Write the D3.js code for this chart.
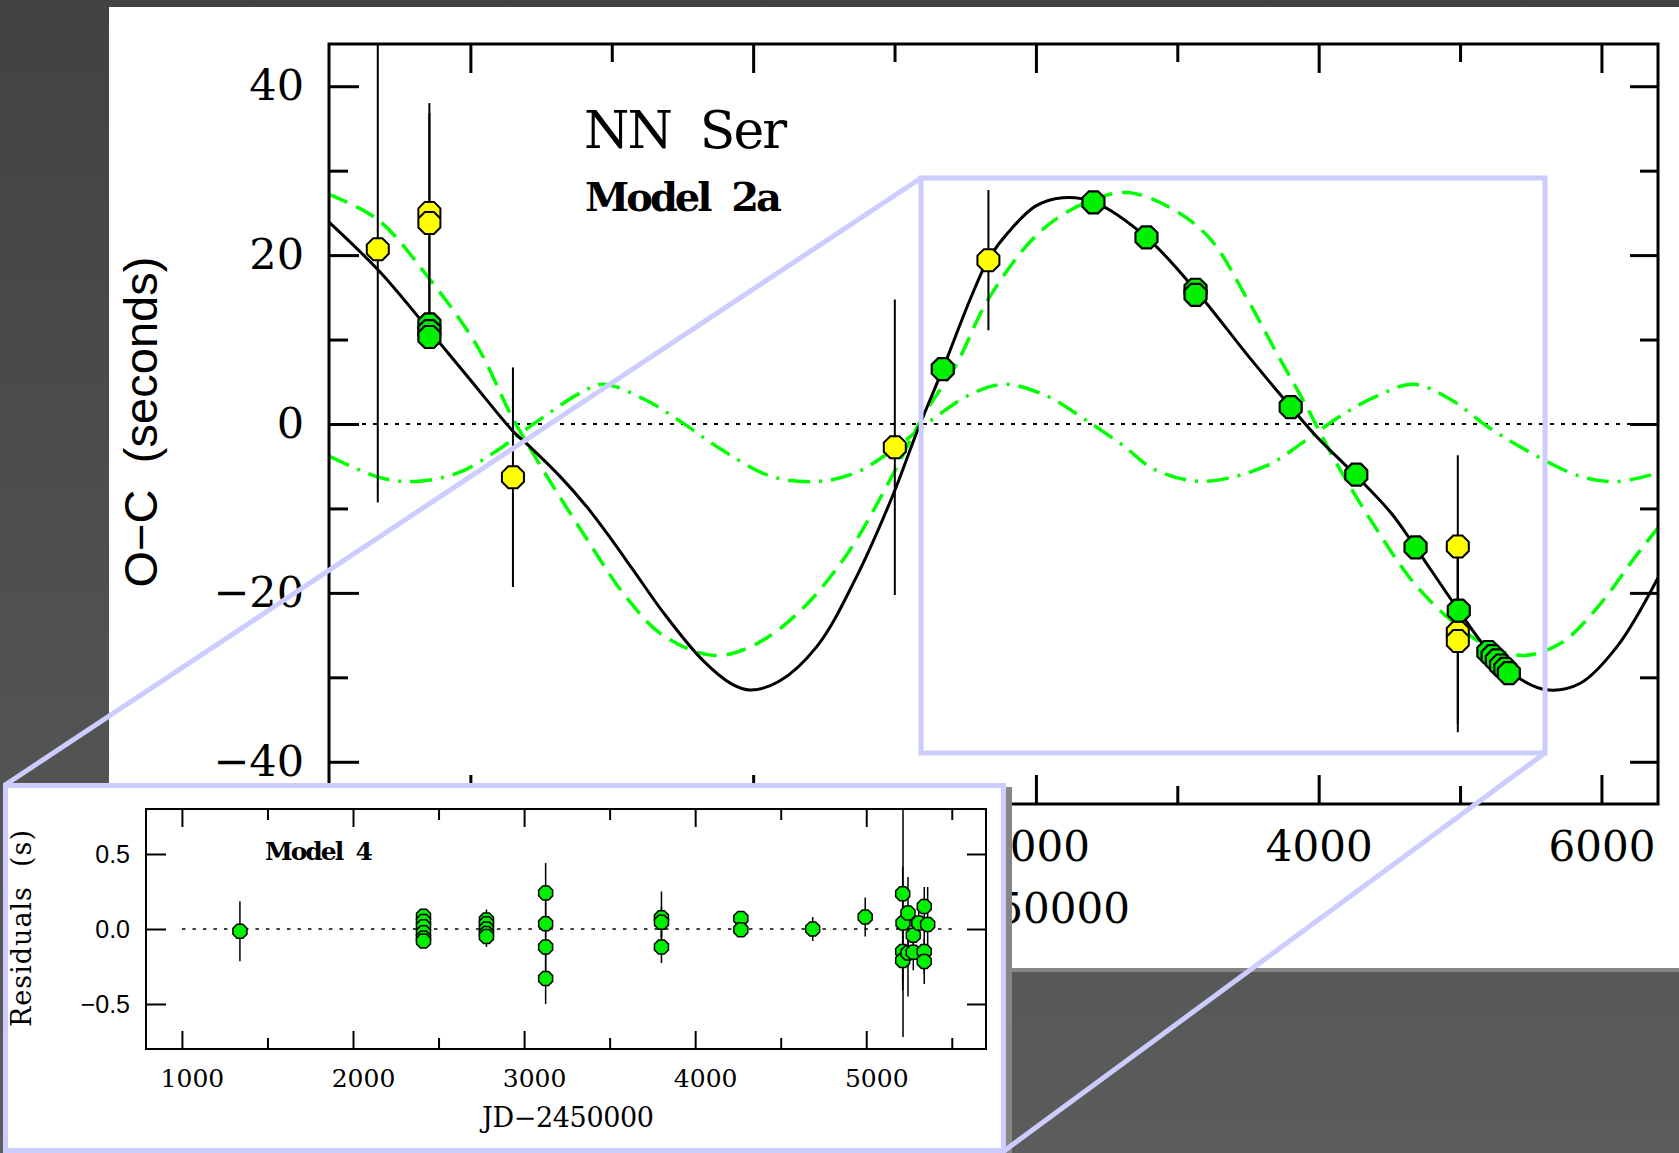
<!DOCTYPE html>
<html>
<head>
<meta charset="utf-8">
<script src="https://cdn.jsdelivr.net/npm/d3@7"></script>
<style>
  body { margin: 0; background: #4a4a4a; overflow: hidden; }
</style>
</head>
<body>
<svg id="fig" width="1679" height="1153"></svg>
<script>
// ---- main O-C plot : [JD-2450000, O-C seconds, error] ----
var mainYellow = [
  [-2655, 20.7, 30], [-2290, 25.0, 13], [-2290, 23.8, 13], [-1699, -6.3, 13],
  [1002, -2.75, 17.5], [1664, 19.4, 8.3],
  [4984, -14.5, 10.8], [4984, -24.7, 10.8], [4984, -25.7, 10.8]
];
var mainGreen = [
  [-2290, 11.8], [-2290, 11.0], [-2290, 10.3], [1341, 6.5], [2407, 26.25],
  [2782, 22.1], [3129, 15.9], [3129, 15.3], [3802, 2.0], [4266, -6.0],
  [4685, -14.6], [4991, -22.1], [5200, -27.0], [5230, -27.5], [5260, -28.0],
  [5290, -28.6], [5320, -29.0], [5345, -29.5]
];
// model curves
var fitBlack = [
  [-3000, 23.9], [-2639, 18.0], [-2286, 11.0], [-2004, 5.3], [-1696, -0.9], [-1578, -2.7],
  [-1366, -6.2], [-1177, -9.8], [-1036, -12.9], [-848, -17.3], [-632, -22.4], [-361, -27.9],
  [-150, -30.8], [-21, -31.5], [181, -30.5], [453, -26.3], [722, -18.4], [994, -8.2],
  [1157, -1.0], [1341, 6.5], [1536, 14.8], [1664, 19.5], [1805, 22.7], [1997, 25.8],
  [2188, 26.8], [2407, 26.3], [2782, 22.1], [3137, 15.7], [3514, 7.8], [3809, 1.9],
  [3986, -1.5], [4269, -6.2], [4515, -10.6], [4685, -14.6], [4991, -22.1], [5194, -26.7],
  [5456, -30.5], [5626, -31.5], [5850, -30.7], [6113, -26.3], [6400, -18.2]
];
var fitDashed = [
  [-3000, 27.2], [-2655, 24.2], [-2304, 17.5], [-1951, 9.2], [-1708, 0.9], [-1545, -3.8],
  [-1444, -6.6], [-1173, -13.7], [-903, -20.4], [-632, -25.1], [-279, -27.4], [-8, -26.3],
  [317, -22.4], [669, -15.3], [994, -5.8], [1211, 1.2], [1429, 6.8], [1671, 15.0],
  [2025, 22.7], [2350, 26.2], [2648, 27.4], [2973, 25.4], [3234, 21.9], [3495, 14.8],
  [3703, 8.4], [3913, 2.1], [4124, -4.6], [4411, -12.5], [4672, -18.8], [4933, -23.2],
  [5194, -26.3], [5456, -27.4], [5717, -25.9], [5978, -21.6], [6240, -15.7], [6400, -12.3]
];
var fitDashDot = [
  [-3000, -3.8], [-2628, -6.4], [-2386, -6.8], [-2088, -5.8], [-1816, -3.2], [-1545, 0.1],
  [-1220, 3.7], [-1065, 4.7], [-767, 2.9], [-496, 0.1], [-227, -3.0], [127, -6.2],
  [453, -6.8], [722, -5.8], [994, -3.0], [1265, 0.5], [1536, 3.5], [1780, 4.7],
  [2078, 3.3], [2350, 0.5], [2620, -2.6], [2841, -5.4], [3181, -6.8], [3625, -5.0],
  [3887, -2.2], [4149, 0.9], [4411, 3.3], [4672, 4.7], [4933, 2.9], [5194, -0.3],
  [5456, -3.0], [5850, -6.2], [6113, -6.8], [6400, -5.8]
];
var mainXMajor = [-2000, 0, 2000, 4000, 6000];
var mainXMinor = [-1000, 1000, 3000, 5000];
var mainYMajor = [-40, -20, 0, 20, 40];
var mainYMinor = [-30, -10, 10, 30];

// ---- inset residuals (Model 4) : [JD-2450000, residual s, error] ----
var insetPts = [
  [1339, -0.015, 0.2],
  [2412, 0.085, 0], [2412, 0.05, 0], [2412, 0.015, 0], [2412, -0.025, 0], [2412, -0.06, 0], [2412, -0.08, 0],
  [2780, 0.06, 0.07], [2780, 0.035, 0.05], [2780, 0.0, 0.05], [2780, -0.03, 0.05], [2780, -0.05, 0.07],
  [3126, 0.24, 0.2], [3126, 0.035, 0.2], [3126, -0.12, 0.2], [3126, -0.33, 0.17],
  [3803, 0.075, 0.175], [3803, 0.045, 0.1], [3803, -0.12, 0.107],
  [4267, 0.07, 0], [4267, -0.005, 0],
  [4687, 0.0, 0.08],
  [4994, 0.08, 0.13],
  [5215, 0.04, 0.76], [5213, 0.235, 0.18], [5244, 0.107, 0.24], [5275, -0.042, 0.12],
  [5307, 0.04, 0.1], [5339, 0.15, 0.13], [5359, 0.03, 0.25],
  [5213, -0.15, 0.2], [5213, -0.21, 0.2], [5244, -0.16, 0.29], [5275, -0.155, 0.12],
  [5339, -0.15, 0.15], [5339, -0.216, 0.15]
];
var insetXMajor = [1000, 2000, 3000, 4000, 5000];
var insetXMinor = [1500, 2500, 3500, 4500, 5500];
var insetYMajor = [-0.5, 0, 0.5];

var W = 1679, H = 1153;
var lavender = "#ccccff";
var serif = "'DejaVu Serif', serif";
var sans = "'Liberation Sans', Arial, sans-serif";

//octagon symbol for d3.symbol (flat top), size = width^2
var octagon = {
  draw: function(ctx, size) {
    var r = Math.sqrt(size) / 2 / Math.cos(Math.PI / 8);
    for (var k = 0; k < 8; k++) {
      var a = Math.PI / 8 + k * Math.PI / 4;
      if (k === 0) ctx.moveTo(r * Math.cos(a), r * Math.sin(a));
      else ctx.lineTo(r * Math.cos(a), r * Math.sin(a));
    }
    ctx.closePath();
  }
};

var svg = d3.select("#fig");
var defs = svg.append("defs");

//background
var grad = defs.append("linearGradient").attr("id", "bg")
  .attr("x1", 0).attr("y1", 0).attr("x2", 0).attr("y2", 1);
grad.append("stop").attr("offset", "0%").attr("stop-color", "#424242");
grad.append("stop").attr("offset", "100%").attr("stop-color", "#5c5c5c");
svg.append("rect").attr("width", W).attr("height", H).attr("fill", "url(#bg)");

//white sheet behind the main plot
svg.append("rect").attr("x", 109).attr("y", 968).attr("width", W - 109).attr("height", 4).attr("fill", "#868686");
svg.append("rect").attr("x", 109).attr("y", 7).attr("width", W - 109).attr("height", 961).attr("fill", "#fff");

//styling helper for axes
function styleAxis(g, sw, font, size) {
  g.select(".domain").remove();
  g.selectAll(".tick line").attr("stroke", "#000").attr("stroke-width", sw);
  g.selectAll(".tick text").attr("fill", "#000").attr("font-family", font).attr("font-size", size);
  return g;
}
var noLabel = function() { return ""; };

//
// MAIN PLOT
//
var x = d3.scaleLinear().domain([-3000, 6400]).range([329, 1658]);
var y = d3.scaleLinear().domain([-45, 45]).range([804, 44]);

defs.append("clipPath").attr("id", "clipMain").append("rect")
  .attr("x", 329).attr("y", 44).attr("width", 1329).attr("height", 760);

var main = svg.append("g").attr("clip-path", "url(#clipMain)");

var line = d3.line()
  .x(function(d) { return x(d[0]); })
  .y(function(d) { return y(d[1]); })
  .curve(d3.curveCatmullRom.alpha(0.5));

//zero line
main.append("line")
  .attr("x1", x(-3000)).attr("x2", x(6400)).attr("y1", y(0)).attr("y2", y(0))
  .attr("stroke", "#000").attr("stroke-width", 2).attr("stroke-dasharray", "4,7");

main.append("path").datum(fitDashDot).attr("d", line)
  .attr("fill", "none").attr("stroke", "#00ff00").attr("stroke-width", 3.5)
  .attr("stroke-dasharray", "22,9,3,9");
main.append("path").datum(fitDashed).attr("d", line)
  .attr("fill", "none").attr("stroke", "#00ff00").attr("stroke-width", 3.5)
  .attr("stroke-dasharray", "20,10");
main.append("path").datum(fitBlack).attr("d", line)
  .attr("fill", "none").attr("stroke", "#000").attr("stroke-width", 3);

//error bars
main.selectAll(".errY").data(mainYellow).enter().append("line")
  .attr("class", "errY")
  .attr("x1", function(d) { return x(d[0]); }).attr("x2", function(d) { return x(d[0]); })
  .attr("y1", function(d) { return y(d[1] + d[2]); }).attr("y2", function(d) { return y(d[1] - d[2]); })
  .attr("stroke", "#000").attr("stroke-width", 2);

var bigSym = d3.symbol().type(octagon).size(22 * 22);
main.selectAll(".ptY").data(mainYellow).enter().append("path")
  .attr("class", "ptY").attr("d", bigSym)
  .attr("transform", function(d) { return "translate(" + x(d[0]) + "," + y(d[1]) + ")"; })
  .attr("fill", "#ffff00").attr("stroke", "#000").attr("stroke-width", 2);
main.selectAll(".ptG").data(mainGreen).enter().append("path")
  .attr("class", "ptG").attr("d", bigSym)
  .attr("transform", function(d) { return "translate(" + x(d[0]) + "," + y(d[1]) + ")"; })
  .attr("fill", "#00f000").attr("stroke", "#000").attr("stroke-width", 2.2);

//axes of the main plot
styleAxis(svg.append("g").attr("transform", "translate(0,804)")
  .call(d3.axisBottom(x).tickValues(mainXMajor).tickSize(-29).tickPadding(27).tickFormat(d3.format("d"))), 3, serif, 42);
styleAxis(svg.append("g").attr("transform", "translate(0,804)")
  .call(d3.axisBottom(x).tickValues(mainXMinor).tickSize(-18).tickFormat(noLabel)), 3, serif, 42);
styleAxis(svg.append("g").attr("transform", "translate(0,44)")
  .call(d3.axisTop(x).tickValues(mainXMajor).tickSize(-29).tickFormat(noLabel)), 3, serif, 42);
styleAxis(svg.append("g").attr("transform", "translate(0,44)")
  .call(d3.axisTop(x).tickValues(mainXMinor).tickSize(-18).tickFormat(noLabel)), 3, serif, 42);
styleAxis(svg.append("g").attr("transform", "translate(329,0)")
  .call(d3.axisLeft(y).tickValues(mainYMajor).tickSize(-30).tickPadding(25).tickFormat(d3.format("d"))), 3, serif, 43);
styleAxis(svg.append("g").attr("transform", "translate(329,0)")
  .call(d3.axisLeft(y).tickValues(mainYMinor).tickSize(-19).tickFormat(noLabel)), 3, serif, 43);
styleAxis(svg.append("g").attr("transform", "translate(1658,0)")
  .call(d3.axisRight(y).tickValues(mainYMajor).tickSize(-28).tickFormat(noLabel)), 3, serif, 43);
styleAxis(svg.append("g").attr("transform", "translate(1658,0)")
  .call(d3.axisRight(y).tickValues(mainYMinor).tickSize(-18).tickFormat(noLabel)), 3, serif, 43);

svg.append("rect").attr("x", 329).attr("y", 44).attr("width", 1329).attr("height", 760)
  .attr("fill", "none").attr("stroke", "#000").attr("stroke-width", 3);

//labels of the main plot
svg.append("text").attr("x", 584).attr("y", 148)
  .attr("font-family", serif).attr("font-size", 52).attr("textLength", 203)
  .attr("xml:space", "preserve").text("NN  Ser");
svg.append("text").attr("x", 585).attr("y", 211)
  .attr("font-family", serif).attr("font-weight", "bold").attr("font-size", 40).attr("textLength", 197)
  .attr("xml:space", "preserve").text("Model  2a");
svg.append("text").attr("transform", "translate(157,422) rotate(-90)")
  .attr("text-anchor", "middle").attr("font-family", sans).attr("font-size", 47)
  .attr("textLength", 331).attr("xml:space", "preserve").text("O\u2212C  (seconds)");
svg.append("text").attr("x", 1130).attr("y", 923).attr("text-anchor", "end")
  .attr("font-family", serif).attr("font-size", 42).text("JD\u22122450000");

//zoom box and first connector
svg.append("rect").attr("x", 921).attr("y", 178).attr("width", 624).attr("height", 575)
  .attr("fill", "none").attr("stroke", lavender).attr("stroke-width", 5);
svg.append("line").attr("x1", 921).attr("y1", 178).attr("x2", 5).attr("y2", 785)
  .attr("stroke", lavender).attr("stroke-width", 5);

//
// INSET
//
svg.append("rect").attr("x", 1006).attr("y", 787).attr("width", 6).attr("height", H - 787).attr("fill", "#868686");
svg.append("rect").attr("x", 5.5).attr("y", 785.5).attr("width", 998).attr("height", 365)
  .attr("fill", "#fff").attr("stroke", lavender).attr("stroke-width", 5);

var xi = d3.scaleLinear().domain([790, 5700]).range([146, 986]);
var yi = d3.scaleLinear().domain([-0.8, 0.8]).range([1049, 809]);

defs.append("clipPath").attr("id", "clipInset").append("rect")
  .attr("x", 146).attr("y", 809).attr("width", 840).attr("height", 240);
var inset = svg.append("g").attr("clip-path", "url(#clipInset)");

inset.append("line")
  .attr("x1", xi(1000)).attr("x2", xi(5500)).attr("y1", yi(0)).attr("y2", yi(0))
  .attr("stroke", "#000").attr("stroke-width", 1.6).attr("stroke-dasharray", "3.5,7");

inset.selectAll(".errI").data(insetPts.filter(function(d) { return d[2] > 0; })).enter().append("line")
  .attr("class", "errI")
  .attr("x1", function(d) { return xi(d[0]); }).attr("x2", function(d) { return xi(d[0]); })
  .attr("y1", function(d) { return yi(d[1] + d[2]); }).attr("y2", function(d) { return yi(d[1] - d[2]); })
  .attr("stroke", "#000").attr("stroke-width", 1.5);

var smallSym = d3.symbol().type(octagon).size(14 * 14);
inset.selectAll(".ptI").data(insetPts).enter().append("path")
  .attr("class", "ptI").attr("d", smallSym)
  .attr("transform", function(d) { return "translate(" + xi(d[0]) + "," + yi(d[1]) + ")"; })
  .attr("fill", "#00f000").attr("stroke", "#000").attr("stroke-width", 1.5);

var ib = styleAxis(svg.append("g").attr("transform", "translate(0,1049)")
  .call(d3.axisBottom(xi).tickValues(insetXMajor).tickSize(-18).tickPadding(20).tickFormat(d3.format("d"))), 2, serif, 25);
ib.selectAll(".tick text").attr("x", 10);
styleAxis(svg.append("g").attr("transform", "translate(0,1049)")
  .call(d3.axisBottom(xi).tickValues(insetXMinor).tickSize(-11).tickFormat(noLabel)), 2, serif, 25);
styleAxis(svg.append("g").attr("transform", "translate(0,809)")
  .call(d3.axisTop(xi).tickValues(insetXMajor).tickSize(-18).tickFormat(noLabel)), 2, serif, 25);
styleAxis(svg.append("g").attr("transform", "translate(0,809)")
  .call(d3.axisTop(xi).tickValues(insetXMinor).tickSize(-11).tickFormat(noLabel)), 2, serif, 25);
styleAxis(svg.append("g").attr("transform", "translate(146,0)")
  .call(d3.axisLeft(yi).tickValues(insetYMajor).tickSize(-20).tickPadding(16).tickFormat(d3.format(".1f"))), 2, sans, 25);
styleAxis(svg.append("g").attr("transform", "translate(986,0)")
  .call(d3.axisRight(yi).tickValues(insetYMajor).tickSize(-19).tickFormat(noLabel)), 2, sans, 25);

svg.append("rect").attr("x", 146).attr("y", 809).attr("width", 840).attr("height", 240)
  .attr("fill", "none").attr("stroke", "#000").attr("stroke-width", 2);

svg.append("text").attr("x", 265).attr("y", 860)
  .attr("font-family", serif).attr("font-weight", "bold").attr("font-size", 25).attr("textLength", 108)
  .attr("xml:space", "preserve").text("Model  4");
svg.append("text").attr("transform", "translate(30.5,928.5) rotate(-90)")
  .attr("text-anchor", "middle").attr("font-family", serif).attr("font-size", 27)
  .attr("textLength", 197).attr("xml:space", "preserve").text("Residuals  (s)");
svg.append("text").attr("x", 568).attr("y", 1127).attr("text-anchor", "middle")
  .attr("font-family", serif).attr("font-size", 27).attr("textLength", 172)
  .text("JD\u22122450000");

//second connector, from zoom box corner to inset corner
svg.append("line").attr("x1", 1545).attr("y1", 753).attr("x2", 1004).attr("y2", 1151)
  .attr("stroke", lavender).attr("stroke-width", 5);
</script>
</body>
</html>
